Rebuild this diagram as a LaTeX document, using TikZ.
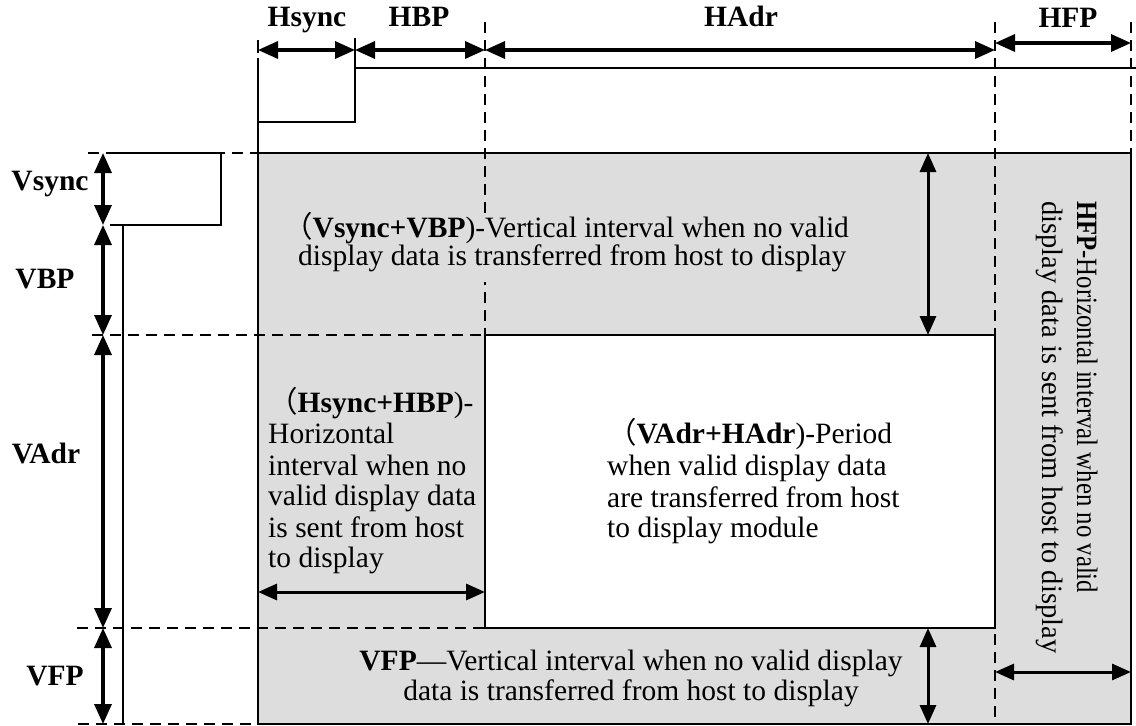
\documentclass[tikz,border=0pt]{standalone}
\usepackage{fontspec}
\setmainfont{Liberation Serif}
\newfontfamily\cjkfont{Noto Sans CJK SC}
\usetikzlibrary{arrows.meta}
\definecolor{panel}{RGB}{221,221,221}
\begin{document}
\begin{tikzpicture}[x=1pt,y=-1pt,
  solidline/.style={line width=1.5pt},
  dashline/.style={line width=1.4pt, dash pattern=on 11pt off 7pt},
  dimarrow/.style={line width=3.4pt, {Triangle[length=20pt,width=17pt]}-{Triangle[length=20pt,width=17pt]}},
  innerarrow/.style={line width=3pt, {Triangle[length=19pt,width=16pt]}-{Triangle[length=19pt,width=16pt]}},
  txt/.style={inner sep=0pt, font=\fontsize{29.5}{31}\selectfont, anchor=base west},
  ctxt/.style={inner sep=0pt, font=\fontsize{29.5}{31}\selectfont, anchor=base},
  lbl/.style={inner sep=0pt, font=\fontsize{29.5}{31}\selectfont\bfseries, anchor=base},
]
\useasboundingbox (0,0) rectangle (1136,726);
\fill[white] (0,0) rectangle (1136,726);

% shaded panel and white active area
\fill[panel] (258,153) rectangle (1131,724);
\fill[white] (485,335) rectangle (995,628);

% dashed guide lines
\draw[dashline] (485,22) -- (485,335);
\draw[dashline] (995,22) -- (995,724);
\draw[dashline] (1131,22) -- (1131,153);
\draw[dashline] (88,153) -- (258,153);
\draw[dashline] (92,335) -- (485,335);
\draw[dashline] (77,628) -- (485,628);
\draw[dashline] (78,724) -- (258,724);

% background patch behind the top text
\fill[panel] (270,216) rectangle (870,282);

% solid outlines
\draw[solidline] (258,153) rectangle (1131,724);
\draw[solidline] (485,335) rectangle (995,628);

% Hsync waveform
\draw[solidline] (258,40) -- (258,53);
\draw[solidline] (258,58) -- (258,724);
\draw[solidline] (258,122) -- (355,122) -- (355,68) -- (1136,68);
\draw[solidline] (355,38) -- (355,68);

% Vsync waveform
\draw[solidline] (110,153) -- (221,153) -- (221,225) -- (110,225);
\draw[solidline] (123,225) -- (123,724);

% named ends of the dimension arrows
\coordinate (hs0) at (258,50);
\coordinate (hs1) at (355,50);
\coordinate (hb1) at (485,50);
\coordinate (ha1) at (995,50);
\coordinate (hf0) at (995,43);
\coordinate (hf1) at (1131,43);
\coordinate (v0) at (103,153);
\coordinate (v1) at (103,225);
\coordinate (v2) at (103,335);
\coordinate (v3) at (103,628);
\coordinate (v4) at (103,724);
\coordinate (ia0) at (928,153);
\coordinate (ia1) at (928,335);
\coordinate (ib0) at (928,628);
\coordinate (ib1) at (928,724);
\coordinate (hl0) at (258,592);
\coordinate (hl1) at (485,592);
\coordinate (hr0) at (995,672);
\coordinate (hr1) at (1131,672);

% dimension arrows
\draw[dimarrow] (hs0) -- (hs1);
\draw[dimarrow] (hs1) -- (hb1);
\draw[dimarrow] (hb1) -- (ha1);
\draw[dimarrow] (hf0) -- (hf1);
\draw[dimarrow] (v0) -- (v1);
\draw[dimarrow] (v1) -- (v2);
\draw[dimarrow] (v2) -- (v3);
\draw[dimarrow] (v3) -- (v4);
\draw[innerarrow] (ia0) -- (ia1);
\draw[innerarrow] (ib0) -- (ib1);
\draw[innerarrow] (hl0) -- (hl1);
\draw[innerarrow] (hr0) -- (hr1);

% header labels
\node[lbl] (lhs) at (307,26) {Hsync};
\node[lbl] (lhb) at (419,26) {HBP};
\node[lbl] (lha) at (741,26) {HAdr};
\node[lbl] (lhf) at (1068,27) {HFP};
\node[lbl] (lvs) at (50,190) {Vsync};
\node[lbl] (lvb) at (45,288) {VBP};
\node[lbl] (lva) at (46,463) {VAdr};
\node[lbl] (lvf) at (55,685) {VFP};

% top text
\node[txt] (ta) at (283,237) {{\cjkfont （}\textbf{Vsync+VBP})-Vertical interval when no valid};
\node[txt] (tb) at (298,265) {display data is transferred from host to display};

% left text
\node[txt] (la) at (268,412) {{\cjkfont （}\textbf{Hsync+HBP})-};
\node[txt] (lb) at (268,443) {Horizontal};
\node[txt] (lc) at (268,475) {interval when no};
\node[txt] (ld) at (268,505) {valid display data};
\node[txt] (le) at (268,537) {is sent from host};
\node[txt] (lf) at (268,567) {to display};

% centre text
\node[txt] (ca) at (607,443) {{\cjkfont （}\textbf{VAdr+HAdr})-Period};
\node[txt] (cb) at (607,475) {when valid display data};
\node[txt] (cc) at (607,507) {are transferred from host};
\node[txt] (cd) at (607,537) {to display module};

% bottom text
\node[ctxt] (ba) at (631,670) {\textbf{VFP}—Vertical interval when no valid display};
\node[ctxt] (bb) at (631,700) {data is transferred from host to display};

% rotated right text
\node[txt, rotate=-90] (ra) at (1077,201) {\resizebox{392pt}{\height}{\textbf{HFP}-Horizontal interval when no valid}};
\node[txt, rotate=-90] (rb) at (1042,201) {\resizebox{452pt}{\height}{display data is sent from host to display}};
\end{tikzpicture}
\end{document}
